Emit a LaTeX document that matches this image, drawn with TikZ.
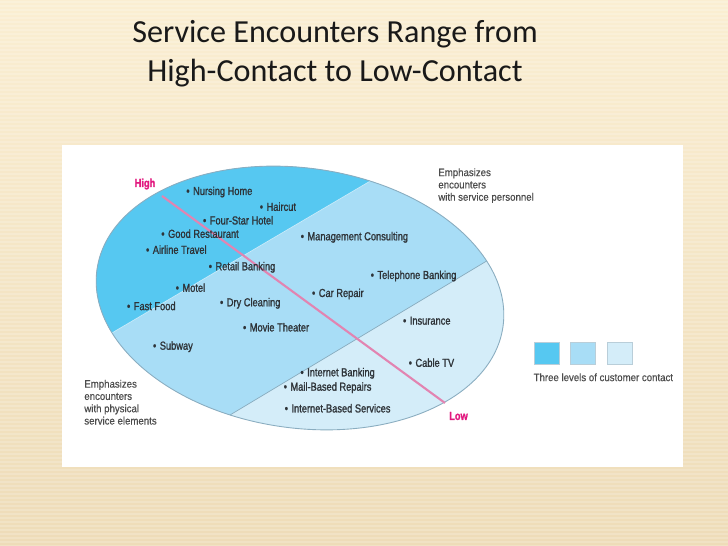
\documentclass[tikz,border=0pt]{standalone}
\usepackage{fontspec}
\setmainfont{Liberation Sans}
\newfontfamily\titlefont{Carlito}
\newfontfamily\itemfont[FakeStretch=0.8,FakeBold=1.3]{Liberation Sans}
\newfontfamily\notefont[FakeStretch=0.9,FakeBold=0.4]{Liberation Sans}
\usetikzlibrary{positioning}
\definecolor{Slide_Top}{HTML}{FAEED2}
\definecolor{Slide_Bottom}{HTML}{EEDCB8}
\definecolor{Contact_High}{HTML}{56C8F1}
\definecolor{Contact_Mid}{HTML}{A8DDF6}
\definecolor{Contact_Low}{HTML}{D4EDF9}
\definecolor{Edge_Gray}{HTML}{8AADC0}
\definecolor{Axis_Pink}{HTML}{E284B1}
\definecolor{Label_Magenta}{HTML}{E2197F}
\definecolor{Item_Text}{HTML}{2E3338}
\definecolor{Note_Gray}{HTML}{4C4C4C}

\tikzset{
    item/.style={anchor=west, inner sep=0pt, text=Item_Text, font=\itemfont\fontsize{6.6}{7}\selectfont},
    note/.style={anchor=north west, inner sep=0pt, align=left, text=Note_Gray, font=\notefont\fontsize{6.1}{7}\selectfont},
    endlabel/.style={inner sep=0pt, text=Label_Magenta, font=\itemfont\bfseries\fontsize{6.6}{7}\selectfont},
    legendbox/.style={draw=Edge_Gray!60, line width=0.3pt, inner sep=0pt, minimum width=14.2pt, minimum height=12.5pt}
}

\begin{document}
\begin{tikzpicture}[x=0.02cm, y=-0.02cm]
    \useasboundingbox (0,0) rectangle (728,546);

    % Slide background
    \shade[top color=Slide_Top, bottom color=Slide_Bottom] (0,0) rectangle (728,546);
    \foreach \yy in {2,6,...,546}
        \draw[white, opacity=0.18, line width=0.8pt] (0,\yy) -- (728,\yy);

    % Title
    \node[anchor=base, inner sep=0pt, font=\titlefont\fontsize{18.3}{22}\selectfont, text=black!90] (title) at (335,42.7) {Service Encounters Range from};
    \node[anchor=base, inner sep=0pt, font=\titlefont\fontsize{18.3}{22}\selectfont, text=black!90] (subtitle) at (335,81.7) {High-Contact to Low-Contact};

    % White panel
    \fill[white] (62,145) rectangle (683,467);

    % Three contact regions inside the ellipse
    \begin{scope}
        \clip[rotate around={-8:(300,298)}] (300,298) ellipse (205 and 130);
        \fill[Contact_Low] (60,120) rectangle (560,460);
        \fill[Contact_Mid] (40,529) -- (560,217) -- (560,120) -- (40,120) -- cycle;
        \fill[Contact_High] (40,375.3) -- (460,128.3) -- (40,128.3) -- cycle;
        \draw[Edge_Gray, line width=0.4pt] (40,529) -- (560,217);
        \draw[Contact_Mid!60!white, line width=0.4pt] (40,375.3) -- (460,128.3);
    \end{scope}
    \draw[Edge_Gray, line width=0.5pt, rotate around={-8:(300,298)}] (300,298) ellipse (205 and 130);

    % High to low axis
    \coordinate (highend) at (162,196);
    \coordinate (lowend) at (445,403);
    \draw[Axis_Pink, line width=1.2pt] (highend) -- (lowend);
    \node[endlabel] (high) at (145,184) {High};
    \node[endlabel] (low) at (458.5,416) {Low};

    % Services
    \foreach \nm/\x/\y/\txt in {
        nursing/186/192/Nursing Home, haircut/259.5/206.7/Haircut,
        hotel/202.7/220.3/Four-Star Hotel, restaurant/161/233.7/Good Restaurant,
        airline/145.7/249.7/Airline Travel, retail/208.4/267.3/Retail Banking,
        motel/175.4/287.7/Motel, fastfood/126.7/306/Fast Food,
        drycleaning/219.7/303.3/Dry Cleaning, movie/242.7/327.3/Movie Theater,
        carrepair/311.7/294/Car Repair, consulting/300.4/237.3/Management Consulting,
        telephone/370.4/276/Telephone Banking, insurance/402.7/320.7/Insurance,
        cable/408.4/362.7/Cable TV, subway/152.7/346.7/Subway,
        netbanking/300.1/373.3/Internet Banking, mailrepairs/283.4/387.7/Mail-Based Repairs,
        netservices/284.4/408.3/Internet-Based Services}
        \node[item] (\nm) at (\x,\y) {\textbullet\hspace{2pt}\txt};

    % Side notes
    \node[note] (personnel) at (438,168) {Emphasizes\\encounters\\with service personnel};
    \node[note] (physical) at (84,379.5) {Emphasizes\\encounters\\with physical\\service elements};

    % Legend
    \node[legendbox, fill=Contact_High] (levelhigh) at (546.7,353) {};
    \node[legendbox, fill=Contact_Mid, right=6.2pt of levelhigh] (levelmid) {};
    \node[legendbox, fill=Contact_Low, right=6.2pt of levelmid] (levellow) {};
    \node[note, anchor=west] (legend) at (533.3,377.3) {Three levels of customer contact};
\end{tikzpicture}
\end{document}
